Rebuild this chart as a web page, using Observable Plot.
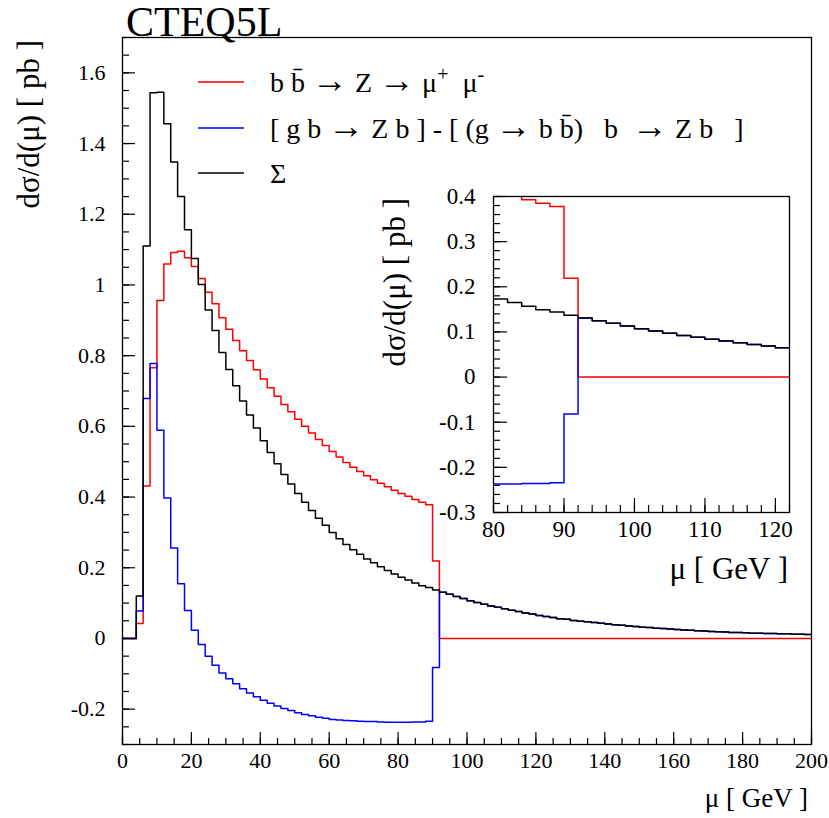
<!DOCTYPE html>
<html>
<head>
<meta charset="utf-8">
<script src="https://cdn.jsdelivr.net/npm/d3@7"></script>
<script src="https://cdn.jsdelivr.net/npm/@observablehq/plot@0.6"></script>
<style>
  html, body { margin: 0; padding: 0; background: white; }
  #wrap { position: relative; width: 829px; height: 818px; }
  #wrap svg { position: absolute; left: 0; top: 0; }
</style>
</head>
<body>
<div id="wrap"></div>
<script>
// ---- data: 2 GeV bins from 0 to 200 GeV ----
const binEdges = d3.range(0, 201, 2);

const red = [
  0, 0, 0.042, 0.431, 0.766, 0.956, 1.059, 1.092, 1.095, 1.077,
  1.052, 1.018, 0.979, 0.947, 0.907, 0.875, 0.843, 0.814, 0.786, 0.760,
  0.734, 0.709, 0.685, 0.662, 0.641, 0.620, 0.600, 0.581, 0.563, 0.546,
  0.529, 0.513, 0.498, 0.484, 0.472, 0.460, 0.449, 0.439, 0.429, 0.419,
  0.410, 0.402, 0.393, 0.385, 0.378, 0.219, 0, 0, 0, 0,
  0, 0, 0, 0, 0, 0, 0, 0, 0, 0,
  0, 0, 0, 0, 0, 0, 0, 0, 0, 0,
  0, 0, 0, 0, 0, 0, 0, 0, 0, 0,
  0, 0, 0, 0, 0, 0, 0, 0, 0, 0,
  0, 0, 0, 0, 0, 0, 0, 0, 0, 0
];

const blue = [
  0, 0, 0.078, 0.679, 0.778, 0.589, 0.397, 0.256, 0.155, 0.079,
  0.023, -0.017, -0.050, -0.076, -0.098, -0.114, -0.128, -0.142, -0.154, -0.165,
  -0.175, -0.183, -0.191, -0.198, -0.204, -0.210, -0.215, -0.219, -0.223, -0.226,
  -0.229, -0.231, -0.232, -0.233, -0.234, -0.235, -0.235, -0.236, -0.237, -0.237,
  -0.237, -0.237, -0.236, -0.236, -0.234, -0.082, 0.131, 0.125, 0.119, 0.113,
  0.107, 0.102, 0.097, 0.092, 0.088, 0.084, 0.080, 0.076, 0.072, 0.069,
  0.065, 0.062, 0.059, 0.056, 0.054, 0.051, 0.049, 0.047, 0.045, 0.043,
  0.041, 0.039, 0.037, 0.035, 0.034, 0.032, 0.031, 0.029, 0.028, 0.027,
  0.025, 0.024, 0.023, 0.022, 0.021, 0.020, 0.019, 0.018, 0.017, 0.017,
  0.016, 0.015, 0.015, 0.014, 0.014, 0.013, 0.013, 0.012, 0.012, 0.011
];

const sigma = [
  0, 0, 0.120, 1.110, 1.544, 1.545, 1.456, 1.348, 1.250, 1.156,
  1.075, 1.001, 0.929, 0.871, 0.809, 0.761, 0.715, 0.672, 0.632, 0.595,
  0.559, 0.526, 0.494, 0.464, 0.437, 0.410, 0.385, 0.362, 0.340, 0.320,
  0.300, 0.282, 0.266, 0.251, 0.238, 0.225, 0.214, 0.203, 0.192, 0.182,
  0.173, 0.165, 0.157, 0.149, 0.144, 0.137, 0.131, 0.125, 0.119, 0.113,
  0.107, 0.102, 0.097, 0.092, 0.088, 0.084, 0.080, 0.076, 0.072, 0.069,
  0.065, 0.062, 0.059, 0.056, 0.054, 0.051, 0.049, 0.047, 0.045, 0.043,
  0.041, 0.039, 0.037, 0.035, 0.034, 0.032, 0.031, 0.029, 0.028, 0.027,
  0.025, 0.024, 0.023, 0.022, 0.021, 0.020, 0.019, 0.018, 0.017, 0.017,
  0.016, 0.015, 0.015, 0.014, 0.014, 0.013, 0.013, 0.012, 0.012, 0.011
];

// ticks
const xMainTicks = [0, 20, 40, 60, 80, 100, 120, 140, 160, 180, 200];
const xMainMinor = d3.range(0, 201, 5);
const yMainTicks = [-0.2, 0, 0.2, 0.4, 0.6, 0.8, 1, 1.2, 1.4, 1.6];
const yMainMinor = d3.range(-0.3, 1.70001, 0.05);

const xInsetTicks = [80, 90, 100, 110, 120];
const xInsetMinor = d3.range(80, 122.001, 2);
const yInsetTicks = [-0.3, -0.2, -0.1, 0, 0.1, 0.2, 0.3, 0.4];
const yInsetMinor = d3.range(-0.3, 0.4001, 0.02);

const legendLabels = ["red", "blue", "black"];

// step outline points for a histogram
function steps(vals, lo = -Infinity, hi = Infinity) {
  const pts = [];
  vals.forEach((v, i) => {
    const a = binEdges[i], b = binEdges[i + 1];
    if (b <= lo || a >= hi) return;
    pts.push({x: Math.max(a, lo), y: v});
    pts.push({x: Math.min(b, hi), y: v});
  });
  return pts;
}
const fmt = d => String(Math.round(d * 10) / 10);

const W = 829, H = 818;
const font = "'Liberation Serif', 'DejaVu Serif', serif";

// ---- main plot ----
const mL = 122, mR = 18, mT = 37, mB = 74;
const pW = W - mL - mR, pH = H - mT - mB;
const main = Plot.plot({
  width: W, height: H,
  marginLeft: mL, marginRight: mR, marginTop: mT, marginBottom: mB,
  x: {domain: [0, 200]},
  y: {domain: [-0.3, 1.7]},
  style: {fontFamily: font, fontSize: "22px", background: "white", color: "black"},
  marks: [
    Plot.line(steps(red), {x: "x", y: "y", stroke: "#ff0000", strokeWidth: 1.5}),
    Plot.line(steps(blue), {x: "x", y: "y", stroke: "#0000ff", strokeWidth: 1.5}),
    Plot.line(steps(sigma), {x: "x", y: "y", stroke: "#000000", strokeWidth: 1.5}),
    Plot.tickY(yMainMinor, {y: d => d, insetRight: pW - 7, stroke: "black", strokeWidth: 1.2}),
    Plot.tickY(yMainTicks, {y: d => d, insetRight: pW - 13, stroke: "black", strokeWidth: 1.2}),
    Plot.tickX(xMainMinor, {x: d => d, insetTop: pH - 6, stroke: "black", strokeWidth: 1.2}),
    Plot.tickX(xMainTicks, {x: d => d, insetTop: pH - 12, stroke: "black", strokeWidth: 1.2}),
    Plot.axisY({ticks: yMainTicks, tickSize: 0, tickPadding: 17, tickFormat: fmt, label: null}),
    Plot.axisX({ticks: xMainTicks, tickSize: 0, tickPadding: 8, tickFormat: fmt, label: null}),
    Plot.frame({stroke: "black", strokeWidth: 1.3})
  ]
});

// ---- inset plot ----
const iL = 493, iR = 40, iT = 196, iB = 306;
const iW = W - iL - iR, iH = H - iT - iB;
const inset = Plot.plot({
  width: W, height: H,
  marginLeft: iL, marginRight: iR, marginTop: iT, marginBottom: iB,
  x: {domain: [80, 122]},
  y: {domain: [-0.3, 0.4]},
  style: {fontFamily: font, fontSize: "23px", background: "transparent", color: "black"},
  marks: [
    Plot.frame({fill: "white"}),
    Plot.line(steps(red, 80, 122), {x: "x", y: "y", stroke: "#ff0000", strokeWidth: 1.5, clip: true}),
    Plot.line(steps(blue, 80, 122), {x: "x", y: "y", stroke: "#0000ff", strokeWidth: 1.5, clip: true}),
    Plot.line(steps(sigma, 80, 122), {x: "x", y: "y", stroke: "#000000", strokeWidth: 1.5, clip: true}),
    Plot.tickY(yInsetMinor, {y: d => d, insetRight: iW - 7, stroke: "black", strokeWidth: 1.2}),
    Plot.tickY(yInsetTicks, {y: d => d, insetRight: iW - 14, stroke: "black", strokeWidth: 1.2}),
    Plot.tickX(xInsetMinor, {x: d => d, insetTop: iH - 7, stroke: "black", strokeWidth: 1.2}),
    Plot.tickX(xInsetTicks, {x: d => d, insetTop: iH - 14, stroke: "black", strokeWidth: 1.2}),
    Plot.axisY({ticks: yInsetTicks, tickSize: 0, tickPadding: 18, tickFormat: fmt, label: null}),
    Plot.axisX({ticks: xInsetTicks, tickSize: 0, tickPadding: 8, tickFormat: fmt, label: null}),
    Plot.frame({stroke: "black", strokeWidth: 1.3})
  ]
});
inset.style.pointerEvents = "none";

const wrap = document.getElementById("wrap");
wrap.appendChild(main);
wrap.appendChild(inset);

// ---- texts & legend ----
const sm = d3.select(main);
const t = sm.append("g").attr("font-family", font).attr("fill", "black").attr("text-anchor", "start");
t.append("text").attr("x", 126).attr("y", 36).attr("font-size", 42).text("CTEQ5L");
t.append("text").attr("transform", "translate(39,40) rotate(-90)")
  .attr("text-anchor", "end").attr("font-size", 31).text("dσ/d(μ) [ pb ]");
t.append("text").attr("x", 808).attr("y", 807).attr("text-anchor", "end")
  .attr("font-size", 27).text("μ [ GeV ]");

const legendColors = ["#ff0000", "#0000ff", "#000000"];
const legendY = [82, 128, 173];
legendLabels.forEach((k, i) => {
  t.append("line").attr("x1", 198).attr("x2", 244)
    .attr("y1", legendY[i]).attr("y2", legendY[i])
    .attr("stroke", legendColors[i]).attr("stroke-width", 1.5);
});

// write a legend string, drawing each arrow with a larger, thin glyph
function richText(sel, str) {
  str.split("→").forEach((part, i) => {
    if (i > 0) {
      sel.append("tspan").attr("font-size", 36).text("→");
    }
    if (part.length) sel.append("tspan").text(part);
  });
}
// legend entry 1
const l1 = t.append("text").attr("x", 270).attr("y", legendY[0] + 10)
  .attr("font-size", 28).attr("xml:space", "preserve");
richText(l1, "b b\u0304 → Z → μ");
l1.append("tspan").attr("dy", -11).attr("font-size", 20).text("+");
l1.append("tspan").attr("dy", 11).text("  μ");
l1.append("tspan").attr("dy", -11).attr("font-size", 20).text("-");
// legend entry 2
const l2 = t.append("text").attr("x", 270).attr("y", legendY[1] + 10).attr("font-size", 28)
  .attr("xml:space", "preserve");
richText(l2, "[ g b → Z b ] - [ (g → b b\u0304)   b  → Z b   ]");
// legend entry 3
t.append("text").attr("x", 270).attr("y", legendY[2] + 10).attr("font-size", 28).text("Σ");

const si = d3.select(inset);
const ti = si.append("g").attr("font-family", font).attr("fill", "black");
ti.append("text").attr("transform", "translate(405,198) rotate(-90)")
  .attr("text-anchor", "end").attr("font-size", 31).text("dσ/d(μ) [ pb ]");
ti.append("text").attr("x", 788).attr("y", 579).attr("text-anchor", "end")
  .attr("font-size", 31).text("μ [ GeV ]");
</script>
</body>
</html>
